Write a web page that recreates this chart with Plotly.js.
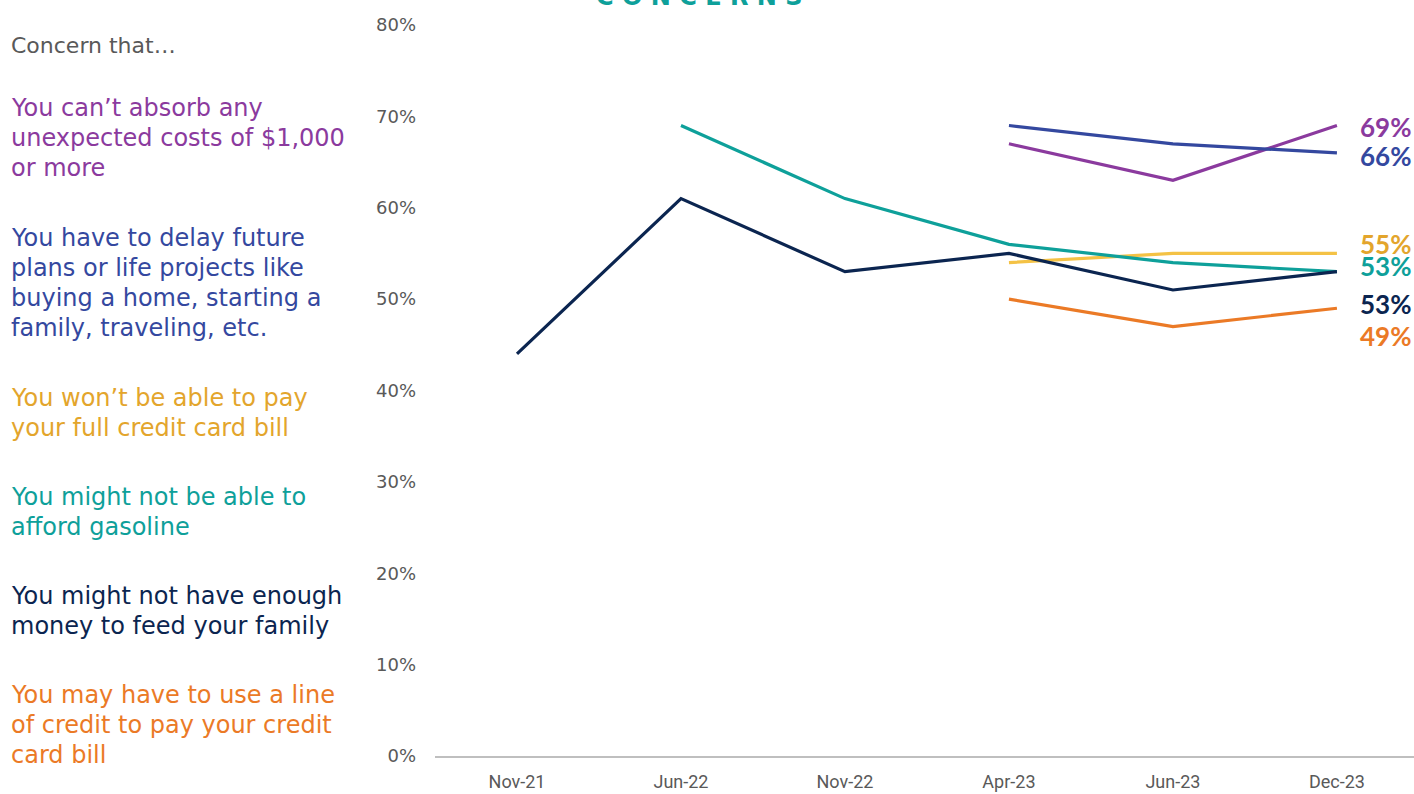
<!DOCTYPE html>
<html>
<head>
<meta charset="utf-8">
<script src="https://cdn.plot.ly/plotly-3.0.1.min.js"></script>
<style>html,body{margin:0;padding:0;background:#fff;}#chart{width:1414px;height:794px;}</style>
</head>
<body>
<div id="chart"></div>
<script>
const categories = ["Nov-21", "Jun-22", "Nov-22", "Apr-23", "Jun-23", "Dec-23"];
const seriesNames = [
  "You can’t absorb any<br>unexpected costs of $1,000<br>or more",
  "You have to delay future<br>plans or life projects like<br>buying a home, starting a<br>family, traveling, etc.",
  "You won’t be able to pay<br>your full credit card bill",
  "You might not be able to<br>afford gasoline",
  "You might not have enough<br>money to feed your family",
  "You may have to use a line<br>of credit to pay your credit<br>card bill"
];
const absorbCosts   = [null, null, null, 67, 63, 69];
const delayPlans    = [null, null, null, 69, 67, 66];
const creditCard    = [null, null, null, 54, 55, 55];
const gasoline      = [null, 69, 61, 56, 54, 53];
const feedFamily    = [44, 61, 53, 55, 51, 53];
const lineOfCredit  = [null, null, null, 50, 47, 49];
const yTickVals = [0, 10, 20, 30, 40, 50, 60, 70, 80];
const yTickText = ["0%", "10%", "20%", "30%", "40%", "50%", "60%", "70%", "80%"];

const seriesValues = [absorbCosts, delayPlans, creditCard, gasoline, feedFamily, lineOfCredit];
const lineColors = ["#8B3A9E", "#34489F", "#F4C245", "#0EA09A", "#0B2550", "#EB7A26"];
const textColors = ["#8B3A9E", "#34489F", "#E3A52C", "#0EA09A", "#0B2550", "#EB7A26"];
const blockFirstLine = [108, 238, 398, 497, 596, 695];   // pixel center of first line of each left block
const lineStep = 30;
const endLabelShift = [-1, -3, 9, 6, -32, -28];          // label offset vs. last point (px, up positive)

const traces = seriesValues.map((vals, i) => ({
  x: categories, y: vals, type: "scatter", mode: "lines",
  line: {color: lineColors[i], width: 3.2}, connectgaps: false,
  hoverinfo: "skip", showlegend: false
}));

const plotTop = 25, plotBottom = 756, plotLeft = 435, plotW = 979;
const py = p => (plotBottom - p) / (plotBottom - plotTop);
const px = p => (p - plotLeft) / plotW;
const font = "'DejaVu Sans', 'Open Sans', sans-serif";

const annotations = [];
annotations.push({xref: "paper", yref: "paper", x: px(9), xanchor: "left", y: py(46), yanchor: "middle",
  text: "Concern that…", showarrow: false, align: "left", font: {family: font, size: 22, color: "#595959"}});
seriesNames.forEach((t, i) => {
  t.split("<br>").forEach((line, j) => {
    annotations.push({xref: "paper", yref: "paper", x: px(9), xanchor: "left",
      y: py(blockFirstLine[i] + j * lineStep), yanchor: "middle",
      text: line, showarrow: false, align: "left", font: {family: font, size: 24, color: textColors[i]}});
  });
  const vals = seriesValues[i];
  const last = vals[vals.length - 1];
  annotations.push({x: categories[categories.length - 1], y: last, xref: "x", yref: "y",
    xanchor: "right", yanchor: "middle", xshift: 75, yshift: endLabelShift[i],
    text: "<b>" + last + "%</b>", showarrow: false, borderpad: 0,
    font: {family: "'Lato', 'DejaVu Sans', sans-serif", size: 26, color: textColors[i]}});
});
annotations.push({xref: "paper", yref: "paper", x: px(699), xanchor: "center", y: py(13), yanchor: "bottom",
  text: "<b>C O N C E R N S</b>", showarrow: false, font: {family: font, size: 24, color: "#0EA09A"}});

const layout = {
  width: 1414, height: 794,
  margin: {l: plotLeft, r: 0, t: plotTop, b: 794 - plotBottom},
  paper_bgcolor: "#fff", plot_bgcolor: "#fff",
  xaxis: {type: "category", range: [-0.5, 5.47], showgrid: false, zeroline: false,
    showline: true, linecolor: "#BFBFBF", linewidth: 1.5, ticks: "", ticklabelstandoff: 9,
    tickfont: {family: "'Roboto', sans-serif", size: 18, color: "#595959"}},
  yaxis: {range: [0, 80], tickvals: yTickVals, ticktext: yTickText, showgrid: false, zeroline: false,
    showline: false, ticks: "", ticklabelstandoff: 18,
    tickfont: {family: font, size: 18, color: "#595959"}},
  annotations: annotations
};
Plotly.newPlot("chart", traces, layout, {displayModeBar: false, staticPlot: true});
</script>
</body>
</html>
